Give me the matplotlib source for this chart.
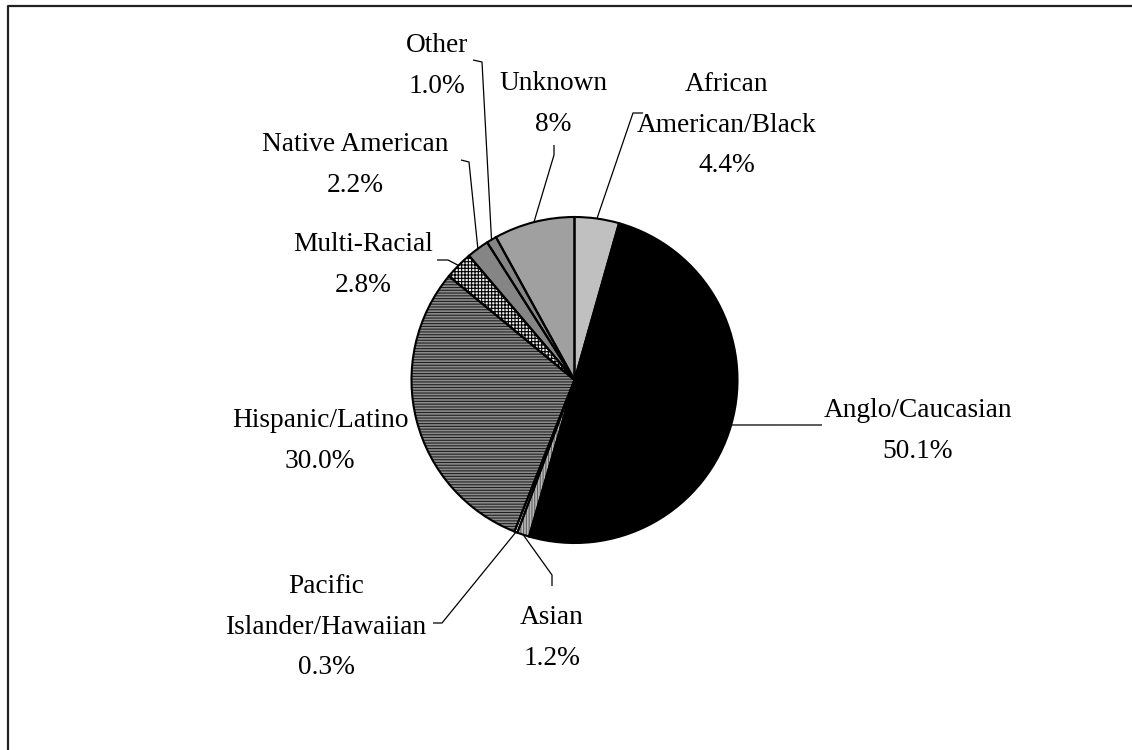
import numpy as np
import matplotlib
matplotlib.use('Agg')
import matplotlib.pyplot as plt

# ethnicity breakdown, clockwise from 12 o'clock
categories = ['African\nAmerican/Black', 'Anglo/Caucasian', 'Asian',
              'Pacific\nIslander/Hawaiian', 'Hispanic/Latino', 'Multi-Racial',
              'Native American', 'Other', 'Unknown']
values = [4.4, 50.1, 1.2, 0.3, 30.0, 2.8, 2.2, 1.0, 8]

# fill, hatch colour, hatch pattern per slice
faces = ['#c0c0c0', '#000000', '#b8b8b8', '#ffffff', '#8c8c8c',
         '#f0f0f0', '#858585', '#858585', '#a0a0a0']
hatch_cols = ['#c0c0c0', '#000000', '#606060', '#ffffff', '#202020',
              '#000000', '#858585', '#858585', '#a0a0a0']
hatches = [None, None, '||||||', None, '------', '+++++', None, None, None]

W, H = 1132, 750
cx, cy, R = 574.5, 370, 163

# label centres and leader line elbows (canvas units, y up)
label_xy = [(727, 625), (918, 319), (552, 112), (326, 123), (320, 309),
            (363, 485), (355, 585), (437, 684), (553, 646)]
leaders = [[(633, 637), (643, 637)],
           [(822, 325)],
           [(552, 175), (552, 164)],
           [(442, 127), (433, 127)],
           None,
           [(448, 490), (437, 490)],
           [(469, 588), (461, 590)],
           [(482, 688), (473, 690)],
           [(554, 595), (554, 605)]]

plt.rcParams['hatch.linewidth'] = 0.8

fig = plt.figure(figsize=(W / 100, H / 100), dpi=100)
ax = fig.add_axes([0, 0, 1, 1])

# fills and hatching
wedges, _ = ax.pie(values, center=(cx, cy), radius=R, startangle=90,
                   counterclock=False, colors=faces,
                   wedgeprops=dict(linewidth=0), frame=True)
for w, hc, h in zip(wedges, hatch_cols, hatches):
    if h:
        w.set_hatch(h)
        w.set_edgecolor(hc)
        w.set_linewidth(0)

# black outlines on top
ax.pie(values, center=(cx, cy), radius=R, startangle=90, counterclock=False,
       wedgeprops=dict(fill=False, edgecolor='black', linewidth=1.5), frame=True)
ax.set_xlim(0, W)
ax.set_ylim(0, H)
ax.set_aspect('equal')
ax.axis('off')

# labels and leader lines
total = sum(values)
start = 0.0
for name, v, (lx, ly), pts in zip(categories, values, label_xy, leaders):
    mid = 90 - 360 * (start + v / 2) / total
    start += v
    pct = f'{v}%' if isinstance(v, int) else f'{v:.1f}%'
    ax.text(lx, ly, f'{name}\n{pct}', ha='center', va='center',
            fontsize=19.7, family='Liberation Serif', linespacing=1.8)
    if pts:
        x0 = cx + R * np.cos(np.radians(mid))
        y0 = cy + R * np.sin(np.radians(mid))
        xs = [x0] + [p[0] for p in pts]
        ys = [y0] + [p[1] for p in pts]
        ax.plot(xs, ys, color='black', lw=0.9, solid_capstyle='butt')

# frame edges along the top and left
ax.plot([7.5, 7.5, W], [0, H - 6, H - 6], color='#222222', lw=1.6)

fig.savefig('out.png', dpi=100)
